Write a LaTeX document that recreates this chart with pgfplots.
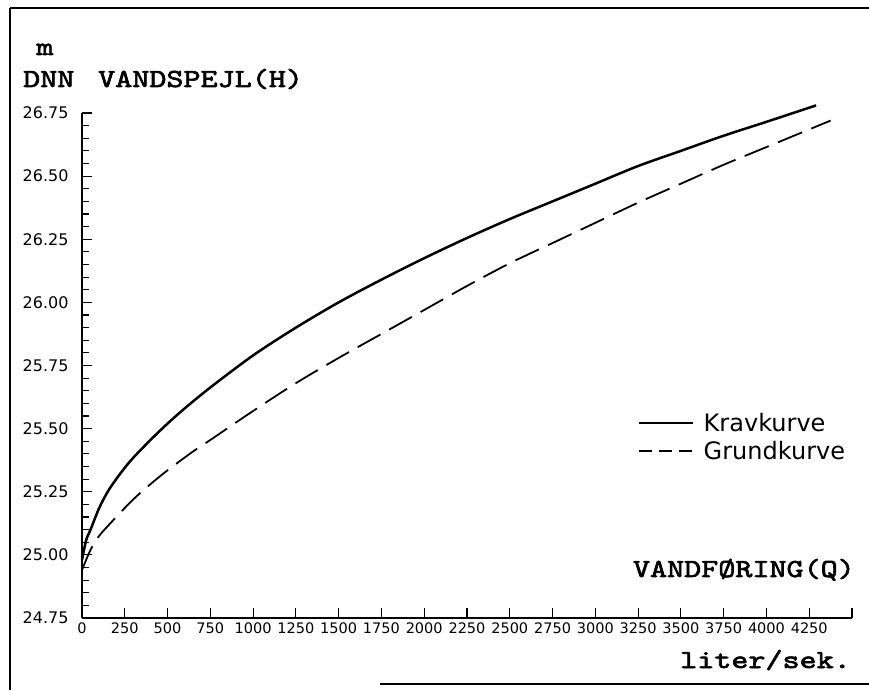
\documentclass[border=0pt]{standalone}
\usepackage{fontspec}
\usepackage{pgfplots}
\pgfplotsset{compat=1.18}
\newfontfamily\dejavu{DejaVu Sans}
\newfontfamily\plotter{lmmono10-regular.otf}[FakeBold=2.5, FakeStretch=1.25]
\newcommand{\plotfont}{\plotter\fontsize{26}{28}\selectfont}
\begin{document}
\begin{tikzpicture}[x=1pt,y=1pt]
\path[use as bounding box] (0,0) rectangle (869,690);
\draw[line width=2.8pt] (10,0) -- (10,682);
\draw[line width=1.4pt] (10,682) -- (869,682);
\draw[line width=1.6pt] (380,6) -- (869,6);
\begin{axis}[
  at={(82pt,72pt)}, anchor=south west,
  scale only axis, width=770pt, height=505pt,
  xmin=0, xmax=4500, ymin=24.75, ymax=26.75,
  axis lines=left, axis line style={-, line width=1.6pt},
  tick align=inside, major tick length=10pt, minor tick length=7pt,
  tick style={line width=1.2pt, black},
  xtick={0,250,500,750,1000,1250,1500,1750,2000,2250,2500,2750,3000,3250,3500,3750,4000,4250,4500},
  xticklabels={0,250,500,750,1000,1250,1500,1750,2000,2250,2500,2750,3000,3250,3500,3750,4000,4250,{}},
  ytick={24.75,25,25.25,25.5,25.75,26,26.25,26.5,26.75},
  yticklabels={24.75,25.00,25.25,25.50,25.75,26.00,26.25,26.50,26.75},
  minor y tick num=4,
  xticklabel style={font=\dejavu\fontsize{14.5}{15}\selectfont, yshift=-1pt},
  yticklabel style={font=\dejavu\fontsize{16}{17}\selectfont, xshift=-10pt},
  clip=false,
  legend style={at={(0.722,0.41)}, anchor=north west, draw=none, fill=none,
    inner sep=0pt, font=\dejavu\fontsize{24}{26}\selectfont, row sep=4pt, column sep=8pt},
  legend cell align=left,
  legend image code/.code={\draw[#1] (0pt,0pt) -- (54pt,0pt);},
]
\addplot[line width=2.5pt, smooth, forget plot] coordinates {
(0,24.98) (25,25.06) (50,25.10) (100,25.185) (150,25.25) (200,25.30) (250,25.345)
(300,25.385) (400,25.455) (500,25.52) (600,25.58)
(750,25.663) (1000,25.79) (1250,25.90) (1500,26.00) (1750,26.09)
(2000,26.175) (2250,26.255) (2500,26.33) (2750,26.40) (3000,26.47) (3250,26.54)
(3500,26.60) (3750,26.66) (4000,26.715) (4290,26.78)};
\addplot[line width=1.8pt, dash pattern=on 26pt off 10pt, smooth, forget plot] coordinates {
(0,24.94) (50,25.02) (100,25.075) (200,25.15) (300,25.22) (400,25.28) (500,25.335)
(650,25.41) (750,25.455) (1000,25.57)
(1250,25.68) (1500,25.78) (1750,25.875) (2000,25.97) (2250,26.065) (2500,26.155)
(2750,26.235) (3000,26.315) (3250,26.395) (3500,26.47) (3750,26.545) (4000,26.615)
(4375,26.72)};
\addlegendimage{line width=1.6pt}
\addlegendentry{Kravkurve}
\addlegendimage{line width=1.6pt, dash pattern=on 13pt off 7pt}
\addlegendentry{Grundkurve}
\end{axis}
\node[anchor=base, inner sep=0pt, font=\plotfont] at (45,635) {m};
\node[anchor=base west, inner sep=0pt, font=\plotfont] at (23,603) {DNN};
\node[anchor=base west, inner sep=0pt, font=\plotfont] at (98,603) {VANDSPEJL(H)};
\node[anchor=base east, inner sep=0pt, font=\plotfont] at (855,113) {VANDFØRING(Q)};
\node[anchor=base east, inner sep=0pt, font=\plotfont] at (851,22) {liter/sek.};
\end{tikzpicture}
\end{document}
